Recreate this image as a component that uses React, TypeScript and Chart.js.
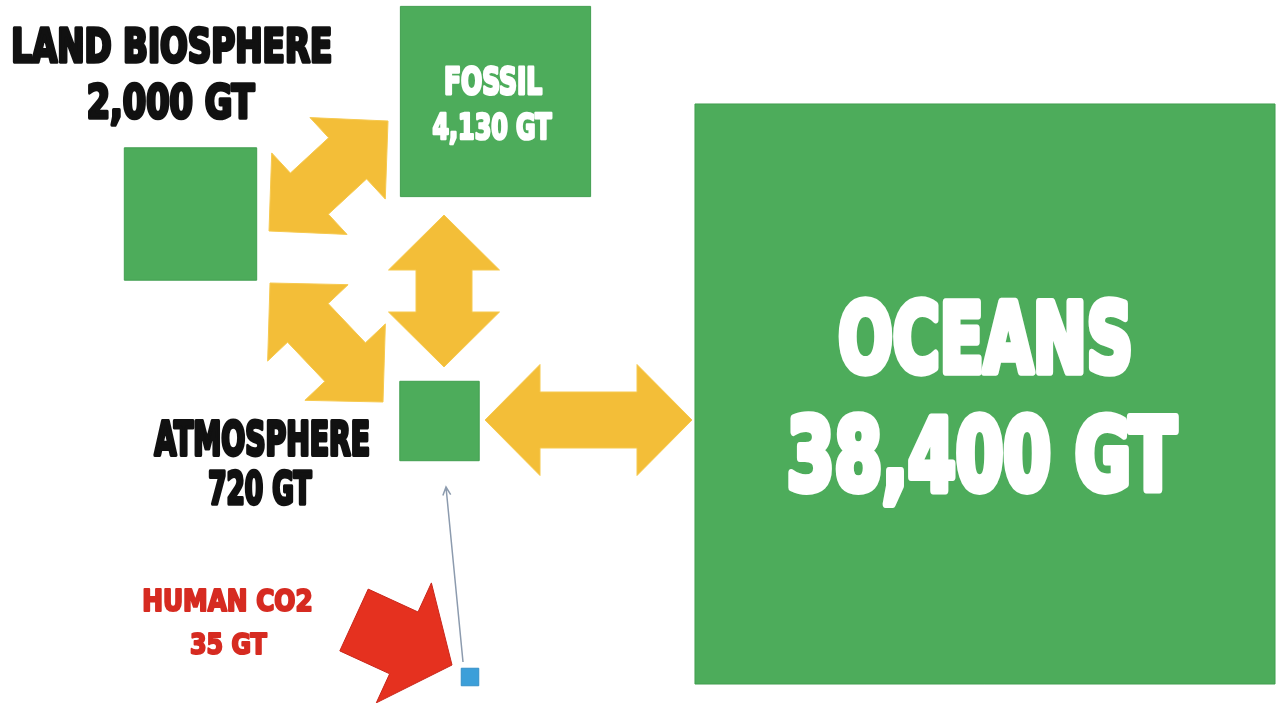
import React, { useEffect, useRef } from "react";
import { Chart, registerables } from "chart.js";

Chart.register(...registerables);

// ---- Data: carbon reservoirs ----
const reservoirNames = ["LAND BIOSPHERE", "FOSSIL", "ATMOSPHERE", "OCEANS", "HUMAN CO2"];
const carbonGT = [2000, 4130, 720, 38400, 35];
const amountLabels = ["2,000 GT", "4,130 GT", "720 GT", "38,400 GT", "35 GT"];

// ---- Layout grid (canvas-sized linear axes, y pointing down) ----
const boxCenterX = [190.5, 495.5, 439.5, 985, 470];
const boxCenterY = [214, 101.5, 421, 394, 677];
const boxColors = ["#4dac5b", "#4dac5b", "#4dac5b", "#4dac5b", "#3c9fd9"];
const boxBorders = ["#429f50", "#429f50", "#429f50", "#429f50", "#3590c8"];

// exchange flows between reservoirs (double-headed arrows): tip to tip
const flowFromX = [269, 270, 444, 485];
const flowFromY = [231, 283, 215, 420];
const flowToX = [388, 383, 444, 692];
const flowToY = [121, 402, 367, 420];

// human emission arrow (single head) and thin pointer
const emissionFrom = [354, 620];
const emissionTo = [452, 665];
const pointerFrom = [463, 662];
const pointerTo = [446, 487];

// text lines
const labelText = [
  "LAND BIOSPHERE", "2,000 GT",
  "FOSSIL", "4,130 GT",
  "ATMOSPHERE", "720 GT",
  "OCEANS", "38,400 GT",
  "HUMAN CO2", "35 GT",
];
const labelX = [172, 172, 494, 492.5, 261.5, 260.5, 985, 984, 227.5, 229];
const labelY = [45, 101.5, 80, 126, 438.5, 487.5, 336.5, 453, 600, 643.5];
const labelCap = [37, 37, 30, 28, 37, 35, 77, 80, 24, 23];
const labelWidth = [320, 169, 98, 121, 217, 105, 294, 392, 169, 78];
const labelColor = [
  "#111111", "#111111",
  "#ffffff", "#ffffff",
  "#111111", "#111111",
  "#ffffff", "#ffffff",
  "#d62b21", "#d62b21",
];

const SIDE_PER_SQRT_GT = 2.96;
const FONT_FAMILY = "'Liberation Sans Narrow','DejaVu Sans Condensed','Liberation Sans',sans-serif";

function arrowPoints(x1: number, y1: number, x2: number, y2: number, shaftW: number, headW: number, headL: number, both: boolean) {
  const dx = x2 - x1, dy = y2 - y1;
  const len = Math.hypot(dx, dy);
  const ux = dx / len, uy = dy / len;
  const px = -uy, py = ux;
  const P = (t: number, s: number) => [x1 + ux * t + px * s, y1 + uy * t + py * s];
  if (both) {
    return [
      P(0, 0), P(headL, headW / 2), P(headL, shaftW / 2), P(len - headL, shaftW / 2),
      P(len - headL, headW / 2), P(len, 0), P(len - headL, -headW / 2), P(len - headL, -shaftW / 2),
      P(headL, -shaftW / 2), P(headL, -headW / 2),
    ];
  }
  return [
    P(0, shaftW / 2), P(len - headL, shaftW / 2), P(len - headL, headW / 2), P(len, 0),
    P(len - headL, -headW / 2), P(len - headL, -shaftW / 2), P(0, -shaftW / 2),
  ];
}

function fillPoly(ctx: CanvasRenderingContext2D, pts: number[][], fill: string, stroke?: string) {
  ctx.beginPath();
  pts.forEach((p, i) => (i === 0 ? ctx.moveTo(p[0], p[1]) : ctx.lineTo(p[0], p[1])));
  ctx.closePath();
  ctx.fillStyle = fill;
  ctx.fill();
  if (stroke) {
    ctx.strokeStyle = stroke;
    ctx.lineWidth = 1;
    ctx.lineJoin = "miter";
    ctx.stroke();
  }
}

const flowPlugin = {
  id: "carbonFlows",
  beforeDatasetsDraw(chart: any) {
    const ctx: CanvasRenderingContext2D = chart.ctx;
    const xs = chart.scales.x, ys = chart.scales.y;
    const X = (v: number) => xs.getPixelForValue(v);
    const Y = (v: number) => ys.getPixelForValue(v);
    ctx.save();
    for (let i = 0; i < flowFromX.length; i++) {
      const pts = arrowPoints(X(flowFromX[i]), Y(flowFromY[i]), X(flowToX[i]), Y(flowToY[i]), 56, 111, 55, true);
      fillPoly(ctx, pts, "#f3be38", "#f6c94f");
    }
    // red emission arrow
    const red = arrowPoints(X(emissionFrom[0]), Y(emissionFrom[1]), X(emissionTo[0]), Y(emissionTo[1]), 68, 132, 53, false);
    fillPoly(ctx, red, "#e5311f", "#c9261a");
    // thin pointer arrow
    const ax = X(pointerFrom[0]), ay = Y(pointerFrom[1]);
    const bx = X(pointerTo[0]), by = Y(pointerTo[1]);
    ctx.strokeStyle = "#8c9bae";
    ctx.lineWidth = 1.5;
    ctx.beginPath();
    ctx.moveTo(ax, ay);
    ctx.lineTo(bx, by);
    const ang = Math.atan2(by - ay, bx - ax);
    const hl = 9;
    ctx.moveTo(bx - hl * Math.cos(ang - 0.45), by - hl * Math.sin(ang - 0.45));
    ctx.lineTo(bx, by);
    ctx.lineTo(bx - hl * Math.cos(ang + 0.45), by - hl * Math.sin(ang + 0.45));
    ctx.stroke();
    ctx.restore();
  },
  afterDatasetsDraw(chart: any) {
    const ctx: CanvasRenderingContext2D = chart.ctx;
    const xs = chart.scales.x, ys = chart.scales.y;
    ctx.save();
    ctx.font = `bold 100px ${FONT_FAMILY}`;
    const capRatio = ctx.measureText("H").actualBoundingBoxAscent / 100;
    for (let i = 0; i < labelText.length; i++) {
      const cap = labelCap[i];
      const lw = cap * 0.085;
      const size = (cap - lw) / capRatio;
      ctx.font = `bold ${size}px ${FONT_FAMILY}`;
      const m = ctx.measureText(labelText[i]);
      const w = m.actualBoundingBoxLeft + m.actualBoundingBoxRight;
      const sx = (labelWidth[i] - lw) / w;
      const cx = xs.getPixelForValue(labelX[i]);
      const cy = ys.getPixelForValue(labelY[i]);
      ctx.save();
      ctx.translate(cx, cy + cap / 2 - lw / 2);
      ctx.scale(sx, 1);
      ctx.textAlign = "left";
      ctx.textBaseline = "alphabetic";
      const x0 = -w / 2 + m.actualBoundingBoxLeft;
      ctx.fillStyle = labelColor[i];
      ctx.strokeStyle = labelColor[i];
      ctx.lineWidth = lw / Math.sqrt(sx);
      ctx.lineJoin = "round";
      ctx.fillText(labelText[i], x0, 0);
      ctx.strokeText(labelText[i], x0, 0);
      ctx.restore();
    }
    ctx.restore();
  },
};

export default function App() {
  const canvasRef = useRef<HTMLCanvasElement | null>(null);

  useEffect(() => {
    if (!canvasRef.current) return;
    const chart = new Chart(canvasRef.current, {
      type: "scatter",
      data: {
        datasets: [
          {
            label: "Carbon reservoirs (GT)",
            data: boxCenterX.map((x, i) => ({ x, y: boxCenterY[i] })),
            pointStyle: "rect",
            pointRadius: (c: any) => (SIDE_PER_SQRT_GT * Math.sqrt(carbonGT[c.dataIndex])) / Math.SQRT2,
            pointHoverRadius: (c: any) => (SIDE_PER_SQRT_GT * Math.sqrt(carbonGT[c.dataIndex])) / Math.SQRT2,
            backgroundColor: boxColors,
            borderColor: boxBorders,
            borderWidth: 1,
            clip: false,
          } as any,
        ],
      },
      options: {
        animation: false,
        responsive: true,
        maintainAspectRatio: false,
        events: [],
        layout: { padding: 0, autoPadding: false },
        plugins: { legend: { display: false }, tooltip: { enabled: false } },
        scales: {
          x: { type: "linear", min: 0, max: 1282, display: false },
          y: { type: "linear", min: 0, max: 703, reverse: true, display: false },
        },
      },
      plugins: [flowPlugin],
    });
    return () => chart.destroy();
  }, []);

  return (
    <div
      style={{ position: "fixed", left: 0, top: 0, width: 1282, height: 703, background: "#ffffff" }}
      aria-label={reservoirNames.map((n, i) => `${n}: ${amountLabels[i]}`).join(", ")}
    >
      <canvas ref={canvasRef} />
    </div>
  );
}
